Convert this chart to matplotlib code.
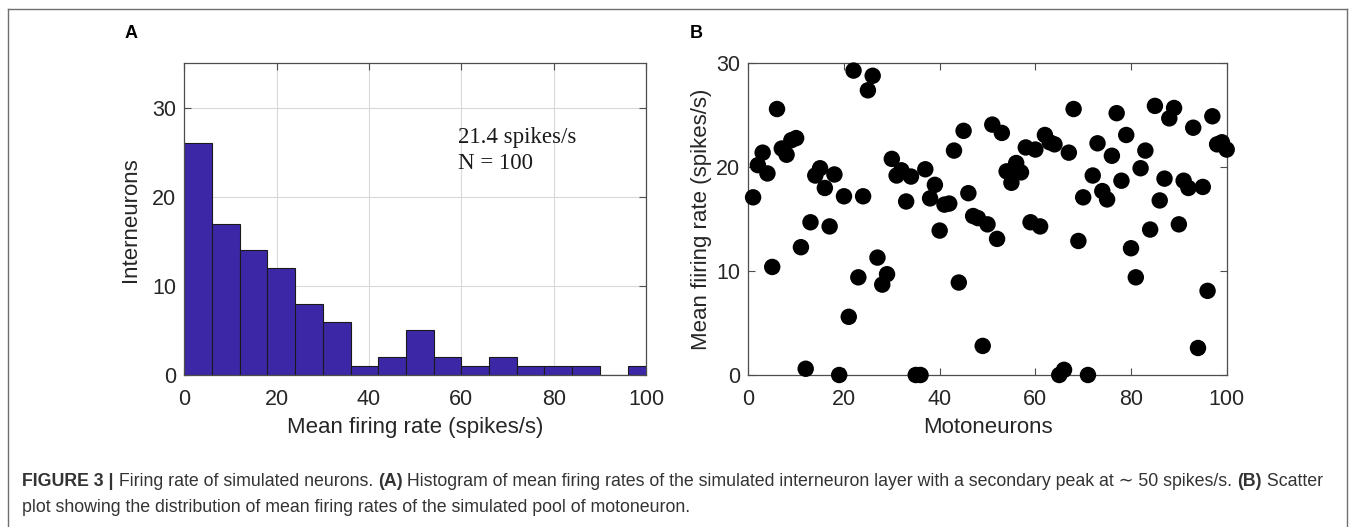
import numpy as np
import matplotlib
matplotlib.use("Agg")
import matplotlib.pyplot as plt
from matplotlib.lines import Line2D

plt.rcParams['font.family'] = ['Liberation Sans', 'DejaVu Sans']

# ========= data =========
# histogram (panel A): bin edges every 6 spikes/s, counts per bin
bin_edges = list(range(0, 103, 6))
bin_counts = [26, 17, 14, 12, 8, 6, 1, 2, 5, 2, 1, 2, 1, 1, 1, 0, 1]

# scatter (panel B): motoneuron index vs mean firing rate
motoneuron_idx = list(range(1, 101))
motoneuron_rate = [
    17.1, 20.2, 21.4, 19.4, 10.4, 25.6, 21.8, 21.2, 22.6, 22.8,
    12.3, 0.6, 14.7, 19.2, 19.9, 18.0, 14.3, 19.3, 0.0, 17.2,
    5.6, 29.3, 9.4, 17.2, 27.4, 28.8, 11.3, 8.7, 9.7, 20.8,
    19.2, 19.7, 16.7, 19.1, 0.0, 0.0, 19.8, 17.0, 18.3, 13.9,
    16.4, 16.5, 21.6, 8.9, 23.5, 17.5, 15.3, 15.1, 2.8, 14.5,
    24.1, 13.1, 23.3, 19.6, 18.5, 20.4, 19.5, 21.9, 14.7, 21.7,
    14.3, 23.1, 22.4, 22.2, 0.0, 0.5, 21.4, 25.6, 12.9, 17.1,
    0.0, 19.2, 22.3, 17.7, 16.9, 21.1, 25.2, 18.7, 23.1, 12.2,
    9.4, 19.9, 21.6, 14.0, 25.9, 16.8, 18.9, 24.7, 25.7, 14.5,
    18.7, 18.0, 23.8, 2.6, 18.1, 8.1, 24.9, 22.2, 22.4, 21.7,
]

caption_line1 = [
    ("FIGURE 3 |", "bold"),
    (" Firing rate of simulated neurons. ", "normal"),
    ("(A)", "bold"),
    (" Histogram of mean firing rates of the simulated interneuron layer with a secondary peak at \u223c 50 spikes/s. ", "normal"),
    ("(B)", "bold"),
    (" Scatter", "normal"),
]
caption_line2 = [
    ("plot showing the distribution of mean firing rates of the simulated pool of motoneuron.", "normal"),
]

W, H = 1355, 527
fig = plt.figure(figsize=(W / 100, H / 100), dpi=100)

# figure frame (left, top, right)
frame_kw = dict(color="#6f6f6f", lw=1.0, transform=fig.transFigure)
fig.add_artist(Line2D([8 / W, 8 / W], [0, 1 - 9 / H], **frame_kw))
fig.add_artist(Line2D([8 / W, 1347 / W], [1 - 9 / H, 1 - 9 / H], **frame_kw))
fig.add_artist(Line2D([1347 / W, 1347 / W], [0, 1 - 9 / H], **frame_kw))

axis_col = "#4d4d4d"
tick_col = "#262626"


def style_axes(ax):
    for s in ax.spines.values():
        s.set_color(axis_col)
        s.set_linewidth(0.9)
    ax.tick_params(direction="in", length=5, width=0.8, colors=axis_col,
                   labelcolor=tick_col, labelsize=15.5, top=True, right=True)
    ax.tick_params(axis="x", pad=10)
    ax.tick_params(axis="y", pad=6)


# ========= panel A: histogram =========
axA = fig.add_axes([184.3 / W, 1 - 375 / H, (646 - 184.3) / W, (375 - 63.3) / H])
widths = np.diff(bin_edges)
axA.bar(bin_edges[:-1], bin_counts, width=widths, align="edge",
        color="#3c27a7", edgecolor="#1a1a1a", linewidth=0.8, zorder=2)
axA.set_xlim(0, 100)
axA.set_ylim(0, 35)
axA.set_xticks([0, 20, 40, 60, 80, 100])
axA.set_yticks([0, 10, 20, 30])
axA.grid(True, color="#d9d9d9", lw=0.8, zorder=0)
axA.set_axisbelow(True)
style_axes(axA)
axA.set_xlabel("Mean firing rate (spikes/s)", fontsize=16, color=tick_col, labelpad=5)
axA.set_ylabel("Interneurons", fontsize=16, color=tick_col, labelpad=8)
axA.text(59.2, 26.7, "21.4 spikes/s", family="Liberation Serif", fontsize=16.5,
         color="#1a1a1a", va="center", ha="left")
axA.text(59.2, 23.7, "N = 100", family="Liberation Serif", fontsize=16.5,
         color="#1a1a1a", va="center", ha="left")

# ========= panel B: scatter =========
axB = fig.add_axes([748.3 / W, 1 - 375 / H, (1226.7 - 748.3) / W, (375 - 63.3) / H])
axB.scatter(motoneuron_idx, motoneuron_rate, s=140, color="black",
            edgecolors="none", clip_on=False, zorder=3)
axB.set_xlim(0, 100)
axB.set_ylim(0, 30)
axB.set_xticks([0, 20, 40, 60, 80, 100])
axB.set_yticks([0, 10, 20, 30])
style_axes(axB)
axB.set_xlabel("Motoneurons", fontsize=16, color=tick_col, labelpad=5)
axB.set_ylabel("Mean fiiring rate (spikes/s)", fontsize=16, color=tick_col, labelpad=3)

# panel letters
fig.text(131 / W, 1 - 33 / H, "A", fontsize=13, fontweight="bold", ha="center", va="center")
fig.text(696 / W, 1 - 33 / H, "B", fontsize=13, fontweight="bold", ha="center", va="center")

# ========= caption =========
fig.canvas.draw()
renderer = fig.canvas.get_renderer()


def draw_line(parts, x0, y0, size=12.8):
    x = x0
    for txt, weight in parts:
        t = fig.text(x / W, 1 - y0 / H, txt, fontsize=size, fontweight=weight,
                     color="#333333", va="center", ha="left")
        bb = t.get_window_extent(renderer=renderer)
        x += bb.width


draw_line(caption_line1, 22, 482)
draw_line(caption_line2, 22, 508)

fig.savefig("out.png", dpi=100)
